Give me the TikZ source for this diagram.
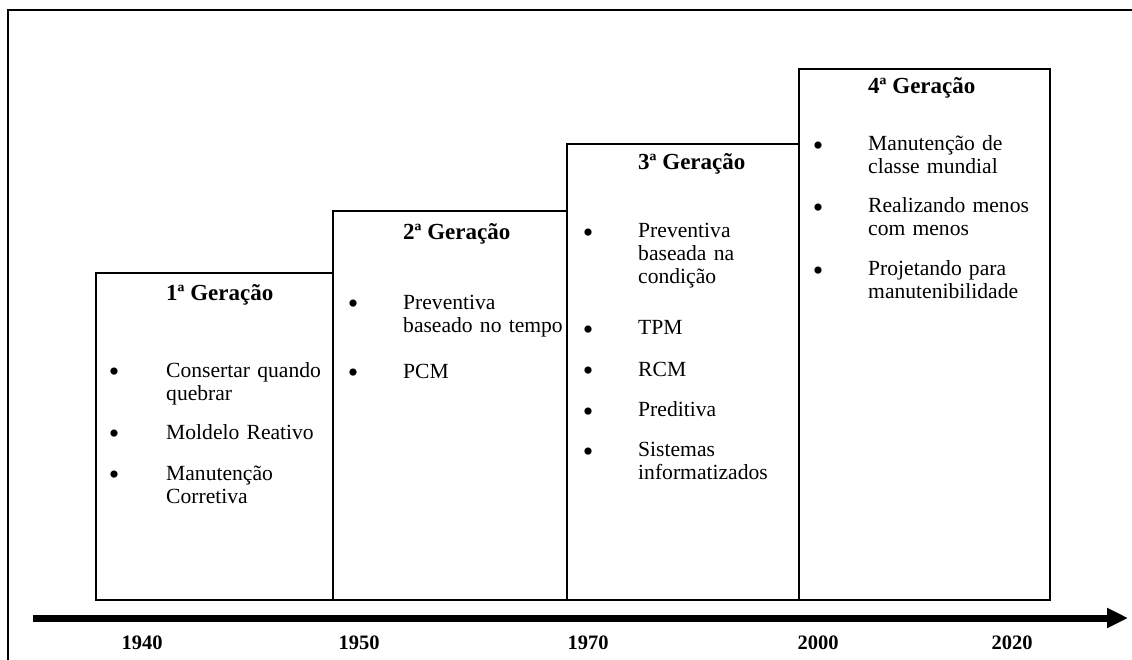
\documentclass[tikz,border=0pt]{standalone}
\usepackage{fontspec}
\setmainfont{Liberation Serif}
\usetikzlibrary{arrows.meta}

\begin{document}
\begin{tikzpicture}[x=1pt,y=-1pt,
  genbox/.style={draw, line width=1.6pt, inner sep=0, anchor=north west},
  gentitle/.style={anchor=base west, inner sep=0, font=\fontsize{23}{25}\selectfont\bfseries},
  genitem/.style={anchor=base west, inner sep=0, align=left, text width=200pt,
                  font=\fontsize{21.6}{23}\selectfont},
  bulletmark/.style={anchor=center, inner sep=0, yshift=-5pt, font=\fontsize{30}{30}\selectfont},
  yearlabel/.style={anchor=base, inner sep=0, font=\fontsize{20.5}{22}\selectfont\bfseries}]

\useasboundingbox (0,0) rectangle (1132,660);

% outer frame (open at the right and bottom)
\draw[line width=2pt] (8,660) -- (8,10) -- (1132,10);

% generation boxes, stepping up from left to right
\node[genbox, minimum width=237pt, minimum height=327pt] (g1) at (95,272) {};
\node[genbox, minimum width=234pt, minimum height=389pt] (g2) at (332,210) {};
\node[genbox, minimum width=232pt, minimum height=456pt] (g3) at (566,143) {};
\node[genbox, minimum width=251pt, minimum height=531pt] (g4) at (798,68) {};

% 1st generation
\node[gentitle] (t1) at (166,300) {1ª Geração};
\node[bulletmark] (b11) at (114,370) {•};
\node[genitem] (i11) at (166,377) {Consertar quando\\quebrar};
\node[bulletmark] (b12) at (114,432) {•};
\node[genitem] (i12) at (166,439) {Moldelo Reativo};
\node[bulletmark] (b13) at (114,473) {•};
\node[genitem] (i13) at (166,480) {Manutenção\\Corretiva};

% 2nd generation
\node[gentitle] (t2) at (403,240) {2ª Geração};
\node[bulletmark] (b21) at (353,302) {•};
\node[genitem] (i21) at (403,309) {Preventiva\\baseado no tempo};
\node[bulletmark] (b22) at (353,371) {•};
\node[genitem] (i22) at (403,378) {PCM};

% 3rd generation
\node[gentitle] (t3) at (638,170) {3ª Geração};
\node[bulletmark] (b31) at (588,231) {•};
\node[genitem] (i31) at (638,238) {Preventiva\\baseada na\\condição};
\node[bulletmark] (b32) at (588,327.5) {•};
\node[genitem] (i32) at (638,334.5) {TPM};
\node[bulletmark] (b33) at (588,369) {•};
\node[genitem] (i33) at (638,376) {RCM};
\node[bulletmark] (b34) at (588,409.5) {•};
\node[genitem] (i34) at (638,416.5) {Preditiva};
\node[bulletmark] (b35) at (588,449.5) {•};
\node[genitem] (i35) at (638,456.5) {Sistemas\\informatizados};

% 4th generation
\node[gentitle] (t4) at (868,94) {4ª Geração};
\node[bulletmark] (b41) at (818,143.5) {•};
\node[genitem] (i41) at (868,150.5) {Manutenção de\\classe mundial};
\node[bulletmark] (b42) at (818,206) {•};
\node[genitem] (i42) at (868,213) {Realizando menos\\com menos};
\node[bulletmark] (b43) at (818,268.5) {•};
\node[genitem] (i43) at (868,275.5) {Projetando para\\manutenibilidade};

% time axis
\coordinate (axL) at (33,618);
\coordinate (axR) at (1128,618);
\draw[line width=7pt, -{Triangle[length=21pt,width=19pt]}] (axL) -- (axR);

% years
\node[yearlabel] (y1940) at (142,649) {1940};
\node[yearlabel] (y1950) at (359,649) {1950};
\node[yearlabel] (y1970) at (588,649) {1970};
\node[yearlabel] (y2000) at (818,649) {2000};
\node[yearlabel] (y2020) at (1012,649) {2020};
\end{tikzpicture}
\end{document}
